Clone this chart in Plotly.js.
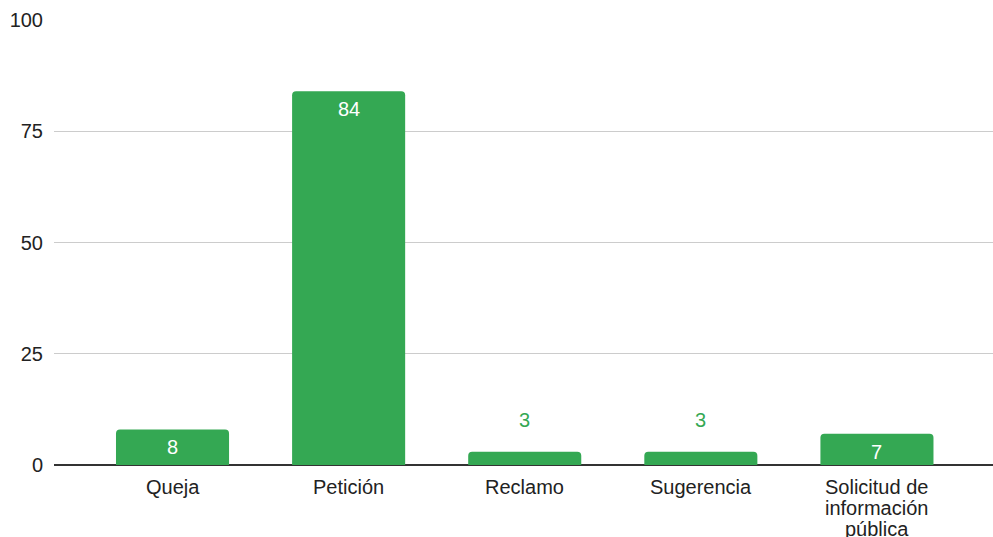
<!DOCTYPE html>
<html><head><meta charset="utf-8">
<script src="https://cdn.plot.ly/plotly-3.0.1.min.js"></script>
<style>html,body{margin:0;padding:0;background:#fff}#chart{width:993px;height:537px}</style>
</head><body><div id="chart"></div>
<script>
const categories = ["Queja", "Petición", "Reclamo", "Sugerencia", "Solicitud de\ninformación\npública"];
const values = [8, 84, 3, 3, 7];
const yTicks = [0, 25, 50, 75, 100];

const green = '#34a853';
const font = 'Arial, "Liberation Sans", sans-serif';
const idx = categories.map((c, i) => i);

const annotations = [];
values.forEach((v, i) => {
  const inside = v >= 5;
  annotations.push({
    x: i, y: v, xref: 'x', yref: 'y', text: String(v), showarrow: false,
    yanchor: 'middle', yshift: inside ? -18 : 32,
    font: {family: font, size: 20, color: inside ? '#ffffff' : green}
  });
});
categories.forEach((c, i) => {
  c.split('\n').forEach((line, j) => {
    annotations.push({
      x: i, y: 0, xref: 'x', yref: 'paper', text: line, showarrow: false,
      yanchor: 'middle', yshift: -22 - j * 21,
      font: {family: font, size: 20, color: '#222222'}
    });
  });
});

Plotly.newPlot('chart', [{
  type: 'bar', x: idx, y: values, width: 0.642,
  marker: {color: green, cornerradius: 4},
  hoverinfo: 'none'
}], {
  width: 993, height: 537,
  margin: {l: 54, r: 0, t: 20, b: 72},
  paper_bgcolor: '#fff', plot_bgcolor: '#fff',
  showlegend: false,
  xaxis: {range: [-0.673, 4.659], showticklabels: false, showgrid: false, zeroline: false, fixedrange: true},
  yaxis: {range: [0, 100], tickvals: yTicks, ticktext: yTicks.map(String),
    showgrid: true, gridcolor: '#cccccc', gridwidth: 1,
    zeroline: true, zerolinecolor: '#333333', zerolinewidth: 1.5,
    ticks: '', ticklabelstandoff: 10,
    tickfont: {family: font, size: 20, color: '#222222'}},
  annotations: annotations
}, {staticPlot: true});
</script></body></html>
